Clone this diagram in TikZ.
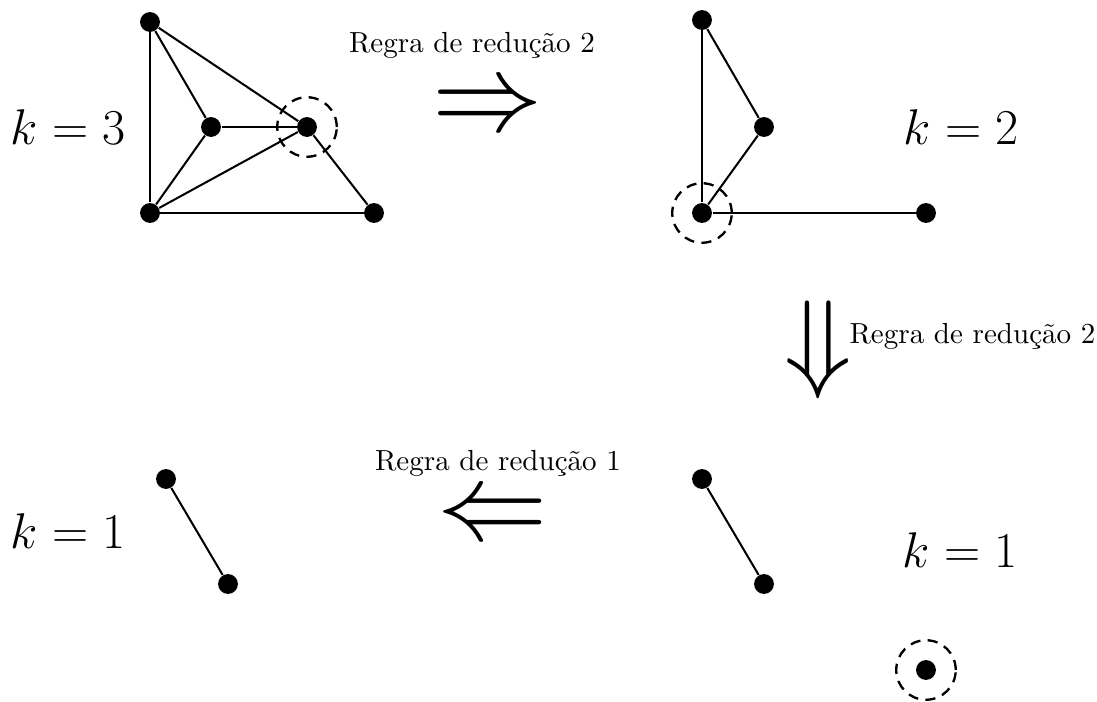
\documentclass[tikz,border=0pt]{standalone}
\usepackage{graphicx}
\usetikzlibrary{positioning}
\tikzset{
  vertex/.style={circle, fill=black, inner sep=0pt, minimum size=2.4mm},
  marked/.style={circle, draw, line width=0.8pt, dash pattern=on 3.5pt off 2.5pt, inner sep=0pt, minimum size=7.2mm},
  edge/.style={line width=0.7pt},
  kval/.style={font=\LARGE},
  rule/.style={font=\normalsize, inner sep=0pt},
  bigarrow/.style={inner sep=0pt}
}
\newcommand{\bigsym}[1]{\scalebox{3.8}{$#1$}}

\begin{document}
\begin{tikzpicture}[x=0.0121cm,y=-0.0121cm]
  \useasboundingbox (0,0) rectangle (1097,702);

  % ---- first graph, k=3 ----
  \node[vertex] (a1) at (150,22)  {};
  \node[vertex] (b1) at (211,127) {};
  \node[vertex] (c1) at (307,127) {};
  \node[vertex] (d1) at (150,213) {};
  \node[vertex] (e1) at (374,213) {};
  \node[marked] (m1) at (c1) {};
  \draw[edge] (a1) -- (d1);
  \draw[edge] (a1) -- (b1);
  \draw[edge] (a1) -- (c1);
  \draw[edge] (b1) -- (c1);
  \draw[edge] (b1) -- (d1);
  \draw[edge] (c1) -- (d1);
  \draw[edge] (c1) -- (e1);
  \draw[edge] (d1) -- (e1);
  \node[kval] (k3) at (68,127) {$k=3$};

  % ---- second graph, k=2 ----
  \node[vertex] (a2) at (702,20)  {};
  \node[vertex] (b2) at (764,127) {};
  \node[vertex] (d2) at (702,213) {};
  \node[vertex] (e2) at (926,213) {};
  \node[marked] (m2) at (d2) {};
  \draw[edge] (a2) -- (d2);
  \draw[edge] (a2) -- (b2);
  \draw[edge] (b2) -- (d2);
  \draw[edge] (d2) -- (e2);
  \node[kval] (k2) at (961,127) {$k=2$};

  % ---- third graph, k=1 (right) ----
  \node[vertex] (a3) at (702,479) {};
  \node[vertex] (b3) at (764,584) {};
  \node[vertex] (f3) at (926,670) {};
  \node[marked] (m3) at (f3) {};
  \draw[edge] (a3) -- (b3);
  \node[kval] (k1r) at (960,550) {$k=1$};

  % ---- fourth graph, k=1 (left) ----
  \node[vertex] (a4) at (166,479) {};
  \node[vertex] (b4) at (228,584) {};
  \draw[edge] (a4) -- (b4);
  \node[kval] (k1l) at (68,531) {$k=1$};

  % ---- reduction steps ----
  \node[bigarrow] (s1) at (488,110) {\bigsym{\Rightarrow}};
  \node[rule] (r1) at (472,45) {Regra de redução 2};
  \node[bigarrow] (s2) at (818,350) {\bigsym{\Downarrow}};
  \node[rule, anchor=west] (r2) at (849,336) {Regra de redução 2};
  \node[bigarrow] (s3) at (493,519) {\bigsym{\Leftarrow}};
  \node[rule] (r3) at (498,463) {Regra de redução 1};
\end{tikzpicture}
\end{document}
